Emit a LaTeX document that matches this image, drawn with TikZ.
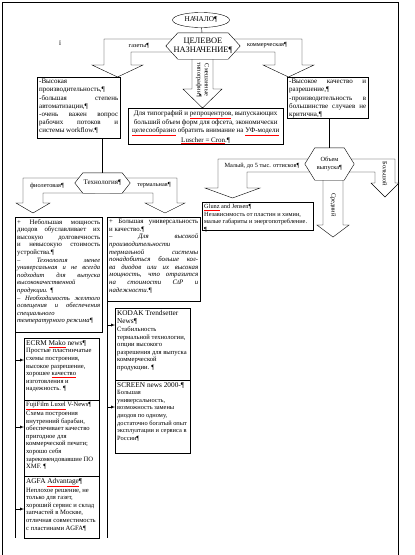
\documentclass[tikz,border=0pt]{standalone}
\usepackage{fontspec}
\setmainfont{Liberation Serif}
\usetikzlibrary{shapes.geometric}

\newcommand{\spell}[1]{{\color{red}\underline{\color{black}#1}}}
\newcommand{\boxtext}[3]{\parbox[t][#2pt][t]{#1pt}{#3}}
\newcommand{\fsmall}{\fontsize{6.3}{7.5}\selectfont}
\newcommand{\fbody}{\fontsize{6.6}{7.6}\selectfont}
\newcommand{\fnorm}{\fontsize{7}{8.2}\selectfont}
\newcommand{\ftitle}{\fontsize{7.3}{8.6}\selectfont}

\hyphenpenalty=10000
\tolerance=9999
\emergencystretch=10pt

\tikzset{
  infobox/.style={draw, fill=white, anchor=north west, inner sep=2pt},
  hexbox/.style={inner sep=0pt},
  bigarrow/.style={draw, fill=white},
  tag/.style={inner sep=0pt, font=\fsmall},
}

\begin{document}
\begin{tikzpicture}[x=1pt,y=-1pt]
  \useasboundingbox (0,0) rectangle (415,555);
  \draw (2,555) -- (2,2) -- (398,2) -- (398,555);

  % block arrows of the choices
  \draw[bigarrow] (175,39) -- (104,39) -- (104,65) -- (92,65) -- (117.5,77) -- (143,65) -- (131,65) -- (131,52) -- (175,52) -- cycle;
  \draw[bigarrow] (231,39) -- (302,39) -- (302,65) -- (314,65) -- (288.5,77) -- (263,65) -- (275,65) -- (275,52) -- (231,52) -- cycle;
  \draw[bigarrow] (192,52) -- (192,89) -- (183,89) -- (202.5,108) -- (222,89) -- (213,89) -- (213,52) -- cycle;
  \draw[bigarrow] (95,178) -- (23,178) -- (23,203) -- (16,203) -- (33,213) -- (50,203) -- (43,203) -- (43,193) -- (95,193) -- cycle;
  \draw[bigarrow] (110,178) -- (177,178) -- (177,203) -- (185,203) -- (165,213) -- (145,203) -- (153,203) -- (153,193) -- (110,193) -- cycle;
  \draw[bigarrow] (320,159) -- (218,159) -- (218,188) -- (205,188) -- (232.5,198) -- (260,188) -- (247,188) -- (247,172) -- (320,172) -- cycle;
  \draw[bigarrow] (323,170) -- (323,225) -- (317,225) -- (333,237) -- (349,225) -- (343,225) -- (343,170) -- cycle;
  \draw[bigarrow] (340,159) -- (395,159) -- (395,183) -- (399,183) -- (385,197) -- (371,183) -- (375,183) -- (375,172) -- (340,172) -- cycle;

  \node[font=\fnorm] (mark) at (60,43) {ї};

  \node[draw, ellipse, minimum width=57, minimum height=15, inner sep=0pt, font=\ftitle] (start) at (201,20) {НАЧАЛО¶};

  % goal hexagon
  \node[hexbox, minimum width=74, minimum height=26] (goal) at (203,46) {};
  \draw[fill=white] (goal.west) -- ([xshift=12]goal.north west) -- ([xshift=-12]goal.north east) -- (goal.east) -- ([xshift=-12]goal.south east) -- ([xshift=12]goal.south west) -- cycle;
  \node[align=center, inner sep=0pt, font=\fontsize{8.4}{8.6}\selectfont] (goaltext) at (goal) {ЦЕЛЕВОЕ\\НАЗНАЧЕНИЕ¶};
  \draw (start) -- (goal);

  \node[tag] (gaz) at (139,45.5) {газеты¶};
  \node[tag] (kom) at (267,45.5) {коммерческая¶};
  \node[tag, rotate=-90, align=center] (mix) at (202.5,80) {Смешанные\\типографии¶};

  \node[infobox, font=\fnorm] (speed) at (37,77) {\boxtext{79}{57}{-Высокая производительность,¶\par -большая степень автоматизации,¶\par -очень важен вопрос рабочих потоков и системы workflow.¶}};
  \node[infobox, font=\fnorm] (quality) at (287,77) {\boxtext{77}{37}{-Высокое качество и разрешение,¶\par -производительность в большинстве случаев не критична,¶}};
  \node[infobox, font=\fnorm] (mixed) at (128,108) {\boxtext{151}{32}{\centering Для типографий и \spell{репроцентров}, выпускающих\\ больший объем форм для офсета, экономически\\ \spell{целесообразно} обратить внимание на \spell{УФ-модели}\\ \spell{Luscher = Cron}.¶}};

  % technology
  \node[hexbox, minimum width=55, minimum height=20] (tech) at (102.5,183) {};
  \draw[fill=white] (tech.west) -- ([xshift=8]tech.north west) -- ([xshift=-8]tech.north east) -- (tech.east) -- ([xshift=-8]tech.south east) -- ([xshift=8]tech.south west) -- cycle;
  \node[inner sep=0pt, font=\fnorm] (techtext) at (tech) {Технология¶};
  \draw (tech.north |- speed.south) -- (tech.north);
  \node[tag] (viol) at (47,185.5) {фиолетовая¶};
  \node[tag] (term) at (154,185.5) {термальная¶};

  \node[infobox, font=\fontsize{6.8}{7.6}\selectfont] (violbox) at (15,217) {\boxtext{83}{111}{+ Небольшая мощность диодов обуславливает их высокую долговечность и невысокую стоимость устройства.¶\par{\itshape\fontsize{6.6}{7.6}\selectfont – Технология менее универсальная и не всегда подходит для выпуска высококачественной продукции. ¶\par – Необходимость желтого\linebreak освещения и обеспечения\linebreak специального\linebreak температурного режима¶\par}}};
  \node[infobox, font=\fontsize{6.8}{7.6}\selectfont] (thermbox) at (107,217) {\boxtext{89}{80}{+ Большая универсальность\linebreak и качество.¶\par{\itshape – Для высокой производительности термальной системы понадобиться больше кол-ва диодов или их высокая мощность, что отразится на стоимости CtP и\linebreak надежности.¶\par}}};

  % output volume
  \node[hexbox, minimum width=49, minimum height=32] (volume) at (329.5,164) {};
  \draw[fill=white] (volume.west) -- ([xshift=10]volume.north west) -- ([xshift=-10]volume.north east) -- (volume.east) -- ([xshift=-10]volume.south east) -- ([xshift=10]volume.south west) -- cycle;
  \node[align=center, inner sep=0pt, font=\fsmall] (volumetext) at (volume) {Объем\\выпуска¶};
  \draw (volume.north |- quality.south) -- (volume.north);
  \node[tag] (small) at (262,165.5) {Малый, до 5 тыс. оттисков¶};
  \node[tag, rotate=-90] (mid) at (333,205) {Средний};
  \node[tag, rotate=-90] (big) at (385,174) {Большой};

  \node[infobox, font=\fsmall] (glunz) at (202,202) {\boxtext{107}{24}{\raggedright \spell{Glunz} and Jensen¶\par Независимость от пластин и химии, малые габариты и энергопотребление. ¶}};

  % models
  \node[infobox, font=\fbody] (ecrm) at (24,338) {\boxtext{71}{58}{\raggedright{\ftitle ECRM \spell{Mako} news¶\par}Простые пластинчатые схемы построения, высокое разрешение, хорошее \spell{качество} изготовления и надежность. ¶}};
  \node[infobox, font=\fbody] (fuji) at (24,400) {\boxtext{71}{72}{\raggedright{\fontsize{6.5}{8.2}\selectfont \spell{FujiFilm Luxel} V-News¶\par}Схема построения внутренний барабан, обеспечивает качество пригодное для коммерческой печати; хорошо себя зарекомендовавшие ПО XMF. ¶}};
  \node[infobox, font=\fbody] (agfa) at (24,476) {\boxtext{71}{58}{\raggedright{\ftitle AGFA \spell{Advantage}¶\par}Неплохое решение, не только для газет, хороший сервис и склад запчастей в Москве, отличная совместимость с пластинами AGFA¶}};
  \node[infobox, font=\fbody] (kodak) at (115,308) {\boxtext{71}{68}{\raggedright{\ftitle KODAK Trendsetter News¶\par}Стабильность термальной технологии, опции высокого разрешения для выпуска коммерческой продукции. ¶}};
  \node[infobox, font=\fontsize{6.4}{7.6}\selectfont] (screen) at (115,380) {\boxtext{71}{69}{\raggedright{\ftitle SCREEN news 2000-¶\par}Большая универсальность, возможность замены диодов по одному, достаточно богатый опыт эксплуатации и сервиса в России¶}};

  \coordinate (vend) at (15,538);
  \coordinate (tend) at (107,538);
  \draw (violbox.south west) -- (vend);
  \draw (thermbox.south west) -- (tend);
  \draw[-latex] (vend |- 0,360) -- (ecrm.west |- 0,360);
  \draw[-latex] (vend |- 0,427) -- (fuji.west |- 0,427);
  \draw[-latex] (vend |- 0,509) -- (agfa.west |- 0,509);
  \draw[-latex] (tend |- 0,325) -- (kodak.west |- 0,325);
  \draw[-latex] (tend |- 0,407) -- (screen.west |- 0,407);
\end{tikzpicture}
\end{document}
